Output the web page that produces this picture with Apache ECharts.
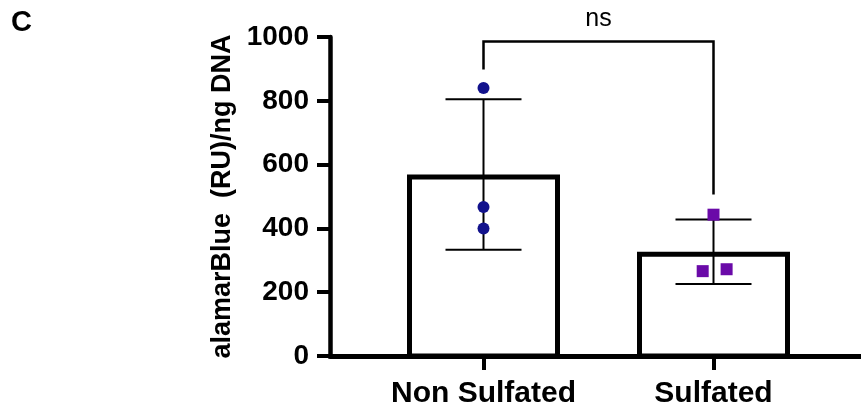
<!DOCTYPE html>
<html>
<head>
<meta charset="utf-8">
<script src="https://cdn.jsdelivr.net/npm/echarts@6/dist/echarts.min.js"></script>
<style>
  html, body { margin: 0; padding: 0; background: #fff; }
  #chart { width: 861px; height: 409px; }
</style>
</head>
<body>
<div id="chart"></div>
<script>
// Groups on the x axis
const categories = ['Non Sulfated', 'Sulfated'];
// Bar heights (group means) and standard deviations
const means = [569, 327];
const sds = [236, 101];
// Individual replicates
const nonSulfatedPoints = [840, 467, 400];
const sulfatedPoints = [443, 266, 272];
// Horizontal spread of the replicate markers, in category units
const nonSulfatedJitter = [0, 0, 0];
const sulfatedJitter = [0, -0.047, 0.057];
// Significance bracket: left leg end, bar top, right leg end
const bracketValues = [898, 986, 506];
const bracketLabel = 'ns';
// Y axis ticks
const yMin = 0, yMax = 1000, yStep = 200;

const FONT = '"Liberation Sans", Arial, Helvetica, sans-serif';
const BAR_PX = 153;      // outer width of a bar
const BAR_BORDER = 5;    // border drawn inside the bar outline
const CAP_PX = 76;       // width of error bar caps

const chart = echarts.init(document.getElementById('chart'), null, { renderer: 'canvas' });

const option = {
  animation: false,
  backgroundColor: '#ffffff',
  grid: { left: 330, right: 0, top: 37, bottom: 52.5, containLabel: false },
  graphic: [{
    type: 'text', left: 11, top: 8,
    style: { text: 'C', font: 'bold 29px ' + FONT, fill: '#000' }
  }],
  xAxis: {
    type: 'value',
    min: -0.6674, max: 1.6413,
    splitLine: { show: false },
    axisLine: { show: true, onZero: false, lineStyle: { color: '#000', width: 5 } },
    axisTick: { show: true, customValues: [0, 1], length: 14, lineStyle: { color: '#000', width: 4 } },
    axisLabel: {
      customValues: [0, 1],
      formatter: v => categories[Math.round(v)],
      color: '#000', fontFamily: FONT, fontWeight: 'bold', fontSize: 30, margin: 23
    }
  },
  yAxis: {
    type: 'value',
    min: yMin, max: yMax, interval: yStep,
    name: 'alamarBlue  (RU)/ng DNA',
    nameLocation: 'middle',
    nameGap: 86,
    nameTextStyle: { color: '#000', fontFamily: FONT, fontWeight: 'bold', fontSize: 27 },
    splitLine: { show: false },
    axisLine: { show: true, onZero: false, lineStyle: { color: '#000', width: 4.5 } },
    axisTick: { show: true, length: 13, lineStyle: { color: '#000', width: 4 } },
    axisLabel: {
      formatter: v => String(v),
      color: '#000', fontFamily: FONT, fontWeight: 'bold', fontSize: 28, margin: 21
    }
  },
  series: [
    {
      // Hollow bars with an inset black border
      type: 'custom',
      z: 2,
      data: means.map((m, i) => [i, m]),
      renderItem: (params, api) => {
        const top = api.coord([api.value(0), api.value(1)]);
        const base = api.coord([api.value(0), 0]);
        const h = BAR_BORDER / 2;
        return {
          type: 'rect',
          shape: { x: top[0] - BAR_PX / 2 + h, y: top[1] + h, width: BAR_PX - 2 * h, height: base[1] - top[1] - h },
          style: { fill: '#fff', stroke: '#000', lineWidth: BAR_BORDER }
        };
      }
    },
    {
      // Mean ± SD error bars
      type: 'custom',
      z: 3,
      data: means.map((m, i) => [i, m - sds[i], m + sds[i]]),
      renderItem: (params, api) => {
        const lo = api.coord([api.value(0), api.value(1)]);
        const hi = api.coord([api.value(0), api.value(2)]);
        const st = { stroke: '#000', lineWidth: 2 };
        return {
          type: 'group',
          children: [
            { type: 'line', shape: { x1: lo[0], y1: lo[1], x2: hi[0], y2: hi[1] }, style: st },
            { type: 'line', shape: { x1: hi[0] - CAP_PX / 2, y1: hi[1], x2: hi[0] + CAP_PX / 2, y2: hi[1] }, style: st },
            { type: 'line', shape: { x1: lo[0] - CAP_PX / 2, y1: lo[1], x2: lo[0] + CAP_PX / 2, y2: lo[1] }, style: st }
          ]
        };
      }
    },
    {
      name: 'Non Sulfated',
      type: 'scatter',
      z: 5,
      symbol: 'circle',
      symbolSize: 12,
      itemStyle: { color: '#12128c', opacity: 1 },
      data: nonSulfatedPoints.map((v, i) => [0 + nonSulfatedJitter[i], v])
    },
    {
      name: 'Sulfated',
      type: 'scatter',
      z: 5,
      symbol: 'rect',
      symbolSize: 12,
      itemStyle: { color: '#6a0aa8', opacity: 1 },
      data: sulfatedPoints.map((v, i) => [1 + sulfatedJitter[i], v])
    },
    {
      // Significance bracket between the two groups
      type: 'custom',
      z: 4,
      data: [[0, 1, bracketValues[0], bracketValues[1], bracketValues[2]]],
      renderItem: (params, api) => {
        const a = api.coord([api.value(0), api.value(2)]);
        const b = api.coord([api.value(0), api.value(3)]);
        const c = api.coord([api.value(1), api.value(3)]);
        const d = api.coord([api.value(1), api.value(4)]);
        return {
          type: 'group',
          children: [
            { type: 'polyline', shape: { points: [a, b, c, d] }, style: { stroke: '#000', lineWidth: 2.5, fill: null } },
            {
              type: 'text',
              style: {
                text: bracketLabel, x: (b[0] + c[0]) / 2, y: b[1] - 10,
                align: 'center', verticalAlign: 'bottom',
                font: '25px ' + FONT, fill: '#000'
              }
            }
          ]
        };
      }
    }
  ]
};

chart.setOption(option);
</script>
</body>
</html>
